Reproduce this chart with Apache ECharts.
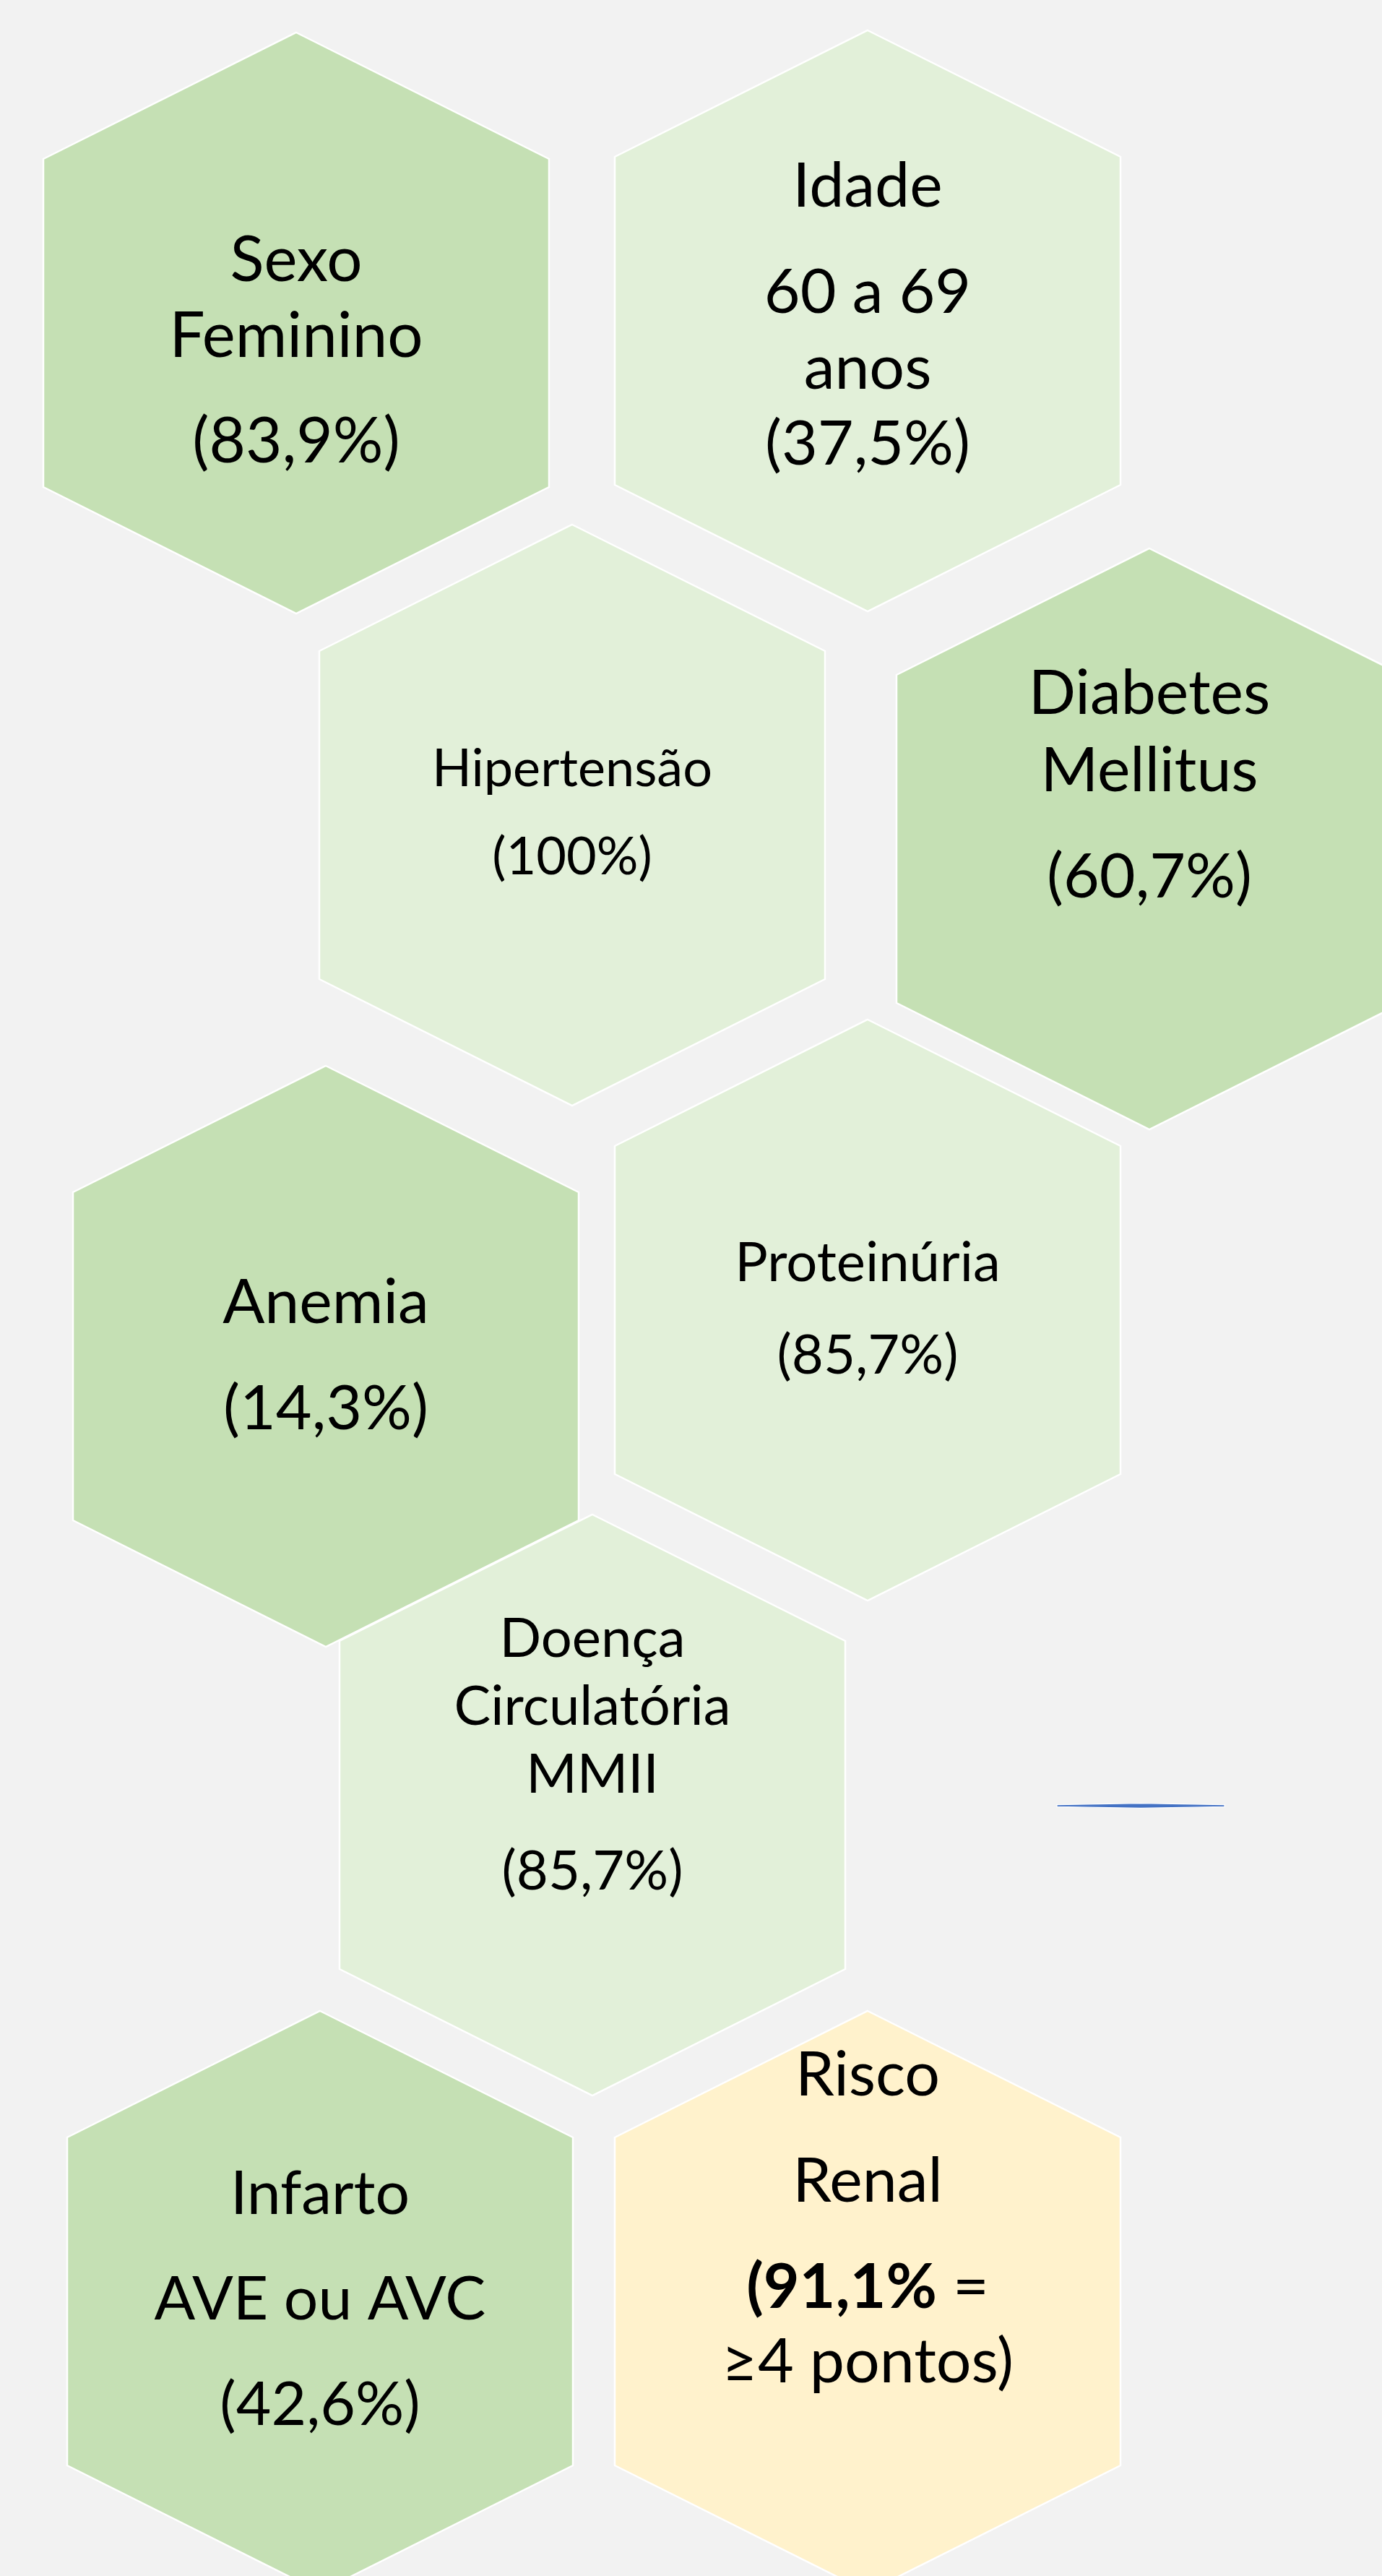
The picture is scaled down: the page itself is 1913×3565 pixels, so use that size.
<!DOCTYPE html>
<html>
<head>
  <meta charset="utf-8">
  <title>Perfil dos pacientes</title>
  <script src="https://cdn.jsdelivr.net/npm/echarts@6/dist/echarts.min.js"></script>
  <style>
    html, body { margin: 0; padding: 0; background: #f2f2f2; }
    #chart { width: 1913px; height: 3565px; }
  </style>
</head>
<body>
  <div id="chart"></div>
  <script>
    // hexagon centres, page pixels
    const hexX = [410, 1201, 792, 1591, 451, 1201, 820, 443, 1201];
    const hexY = [447, 444, 1128, 1161, 1877, 1813, 2498, 3185, 3185];
    const hexKind = ['dark', 'light', 'light', 'dark', 'dark', 'light', 'light', 'dark', 'risk'];
    // text of each hexagon, grouped in paragraphs
    const hexText = [
      [['Sexo', 'Feminino'], ['(83,9%)']],
      [['Idade'], ['60 a 69', 'anos', '(37,5%)']],
      [['Hipertensão'], ['(100%)']],
      [['Diabetes', 'Mellitus'], ['(60,7%)']],
      [['Anemia'], ['(14,3%)']],
      [['Proteinúria'], ['(85,7%)']],
      [['Doença', 'Circulatória', 'MMII'], ['(85,7%)']],
      [['Infarto'], ['AVE ou AVC'], ['(42,6%)']],
      [['Risco'], ['Renal'], ['{b|(91,1%} =', '≥4 pontos)']]
    ];
    // the small blue stroke: x start, y, x end
    const blueStroke = [[1463, 2499, 1695]];

    // layout of the text in each hexagon: font size, first baseline from centre,
    // line step, paragraph step
    const textLayout = [
      { fs: 87, dy: -58, line: 105, para: 146 },
      { fs: 86, dy: -158, line: 105, para: 147 },
      { fs: 72, dy: -40, line: 100, para: 122 },
      { fs: 86, dy: -173, line: 107, para: 147 },
      { fs: 86, dy: -46, line: 105, para: 147 },
      { fs: 76, dy: -40, line: 100, para: 128 },
      { fs: 76, dy: -205, line: 94, para: 134 },
      { fs: 84, dy: -121, line: 105, para: 146 },
      { fs: 86, dy: -285, line: 103, para: 147 }
    ];
    const fill = { dark: '#c5e0b4', light: '#e2f0d9', risk: '#fff2cc' };
    const FONT = 'Lato, Carlito, Calibri, sans-serif';
    const HALF_W = 350, SLOPE_H = 175, SIDE_H = 227;

    const chart = echarts.init(document.getElementById('chart'));

    function renderHex(params, api) {
      const i = params.dataIndex;
      const c = api.coord([api.value(0), api.value(1)]);
      const w = api.size([HALF_W, 0])[0];
      const t = api.size([0, SLOPE_H])[1];
      const s = api.size([0, SIDE_H])[1];
      const pts = [
        [c[0], c[1] - s - t],
        [c[0] + w, c[1] - s],
        [c[0] + w, c[1] + s],
        [c[0], c[1] + s + t],
        [c[0] - w, c[1] + s],
        [c[0] - w, c[1] - s]
      ];
      const children = [{
        type: 'polygon',
        shape: { points: pts },
        style: { fill: fill[hexKind[i]], stroke: '#ffffff', lineWidth: 2.5 }
      }];
      const lay = textLayout[i];
      let y = c[1] + lay.dy;
      hexText[i].forEach(function (para, p) {
        if (p > 0) y += lay.para;
        para.forEach(function (line, l) {
          if (l > 0) y += lay.line;
          children.push({
            type: 'text',
            style: {
              text: line,
              x: c[0],
              y: y - 0.32 * lay.fs,
              fill: '#000000',
              fontSize: lay.fs,
              fontFamily: FONT,
              align: 'center',
              verticalAlign: 'middle',
              rich: { b: { fontSize: lay.fs, fontFamily: FONT, fontWeight: 'bold', fill: '#000000' } }
            }
          });
        });
      });
      return { type: 'group', children: children };
    }

    function renderStroke(params, api) {
      const a = api.coord([api.value(0), api.value(1)]);
      const b = api.coord([api.value(2), api.value(1)]);
      const m = (a[0] + b[0]) / 2;
      return {
        type: 'polygon',
        shape: {
          points: [[a[0], a[1] - 1.4], [m, a[1] - 3.4], [b[0], a[1] - 1.4],
                   [b[0], a[1] + 1.4], [m, a[1] + 3.4], [a[0], a[1] + 1.4]]
        },
        style: { fill: '#4472c4', stroke: '#ffffff', lineWidth: 1.2 }
      };
    }

    const option = {
      backgroundColor: '#f2f2f2',
      animation: false,
      grid: { left: 0, right: 0, top: 0, bottom: 0 },
      xAxis: { type: 'value', min: 0, max: 1913, show: false },
      yAxis: { type: 'value', min: 0, max: 3565, inverse: true, show: false },
      series: [
        {
          type: 'custom',
          renderItem: renderHex,
          clip: true,
          data: hexX.map(function (x, i) { return [x, hexY[i]]; })
        },
        {
          type: 'custom',
          renderItem: renderStroke,
          data: blueStroke
        }
      ]
    };
    chart.setOption(option);
  </script>
</body>
</html>
